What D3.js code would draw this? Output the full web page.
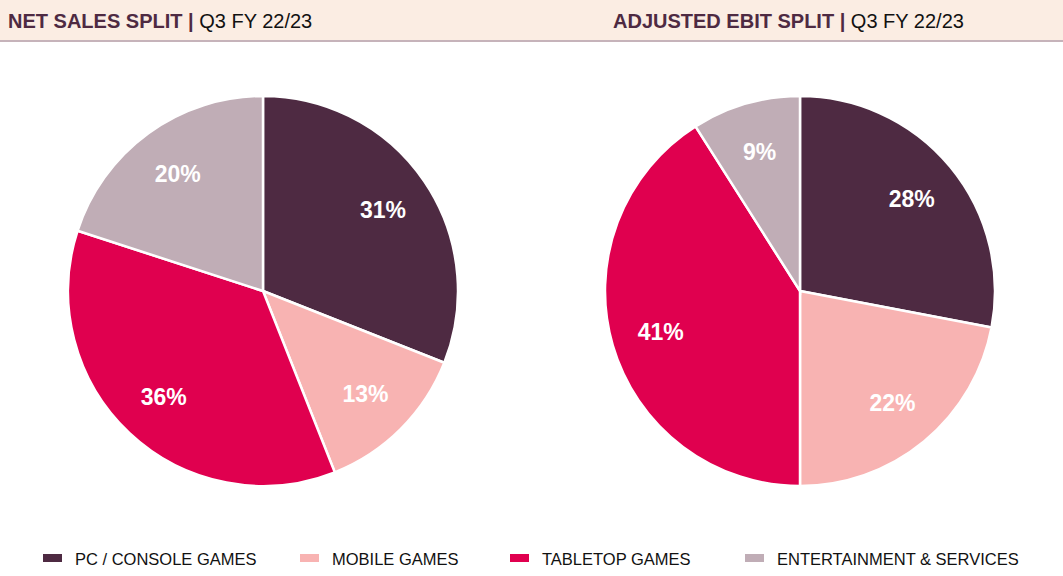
<!DOCTYPE html>
<html><head><meta charset="utf-8">
<script src="https://cdn.jsdelivr.net/npm/d3@7"></script>
<style>body{margin:0;background:#fff;font-family:"Liberation Sans",Arial,sans-serif;}</style>
</head><body>
<svg id="c" width="1063" height="576"></svg>
<script>
const categories = ["PC / CONSOLE GAMES", "MOBILE GAMES", "TABLETOP GAMES", "ENTERTAINMENT & SERVICES"];
const netSales = [31, 13, 36, 20];
const ebit = [28, 22, 41, 9];
const colors = ["#4e2a42", "#f8b3b2", "#e0004f", "#c0adb6"];
const titles = [["NET SALES SPLIT", " Q3 FY 22/23"], ["ADJUSTED EBIT SPLIT", " Q3 FY 22/23"]];

const svg = d3.select("#c");
svg.append("rect").attr("x",0).attr("y",0).attr("width",1063).attr("height",40).attr("fill","#fbede3");
svg.append("rect").attr("x",0).attr("y",40).attr("width",1063).attr("height",2).attr("fill","#c6b3ba");

const titleX = [8, 613];
titles.forEach((t,i)=>{
  const tx = svg.append("text").attr("x",titleX[i]).attr("y",28).attr("font-size",20);
  tx.append("tspan").attr("font-weight","bold").attr("fill","#4e2a42").text(t[0] + " |");
  tx.append("tspan").attr("fill","#111").text(t[1]);
});

const pie = d3.pie().sort(null).value(d=>d);
const R = 195;
const arc = d3.arc().innerRadius(0).outerRadius(R);
const labelArc = d3.arc().innerRadius(145).outerRadius(145);
const centers = [263, 800];
[netSales, ebit].forEach((data,i)=>{
  const g = svg.append("g").attr("transform",`translate(${centers[i]},291)`);
  const arcs = pie(data);
  g.selectAll("path").data(arcs).join("path")
    .attr("d",arc).attr("fill",(d,j)=>colors[j]).attr("stroke","#fff").attr("stroke-width",2.5);
  g.selectAll("text").data(arcs).join("text")
    .attr("transform",d=>`translate(${labelArc.centroid(d)})`)
    .attr("text-anchor","middle").attr("dy","0.35em")
    .attr("fill","#fff").attr("font-weight","bold").attr("font-size",23)
    .text(d=>d.data+"%");
});

const legX = [43, 300, 510, 745];
const lg = svg.append("g");
categories.forEach((c,i)=>{
  lg.append("rect").attr("x",legX[i]).attr("y",554).attr("width",19).attr("height",8).attr("fill",colors[i]);
  lg.append("text").attr("x",legX[i]+32).attr("y",565).attr("font-size",16.5).attr("fill","#111").text(c);
});
</script>
</body></html>
